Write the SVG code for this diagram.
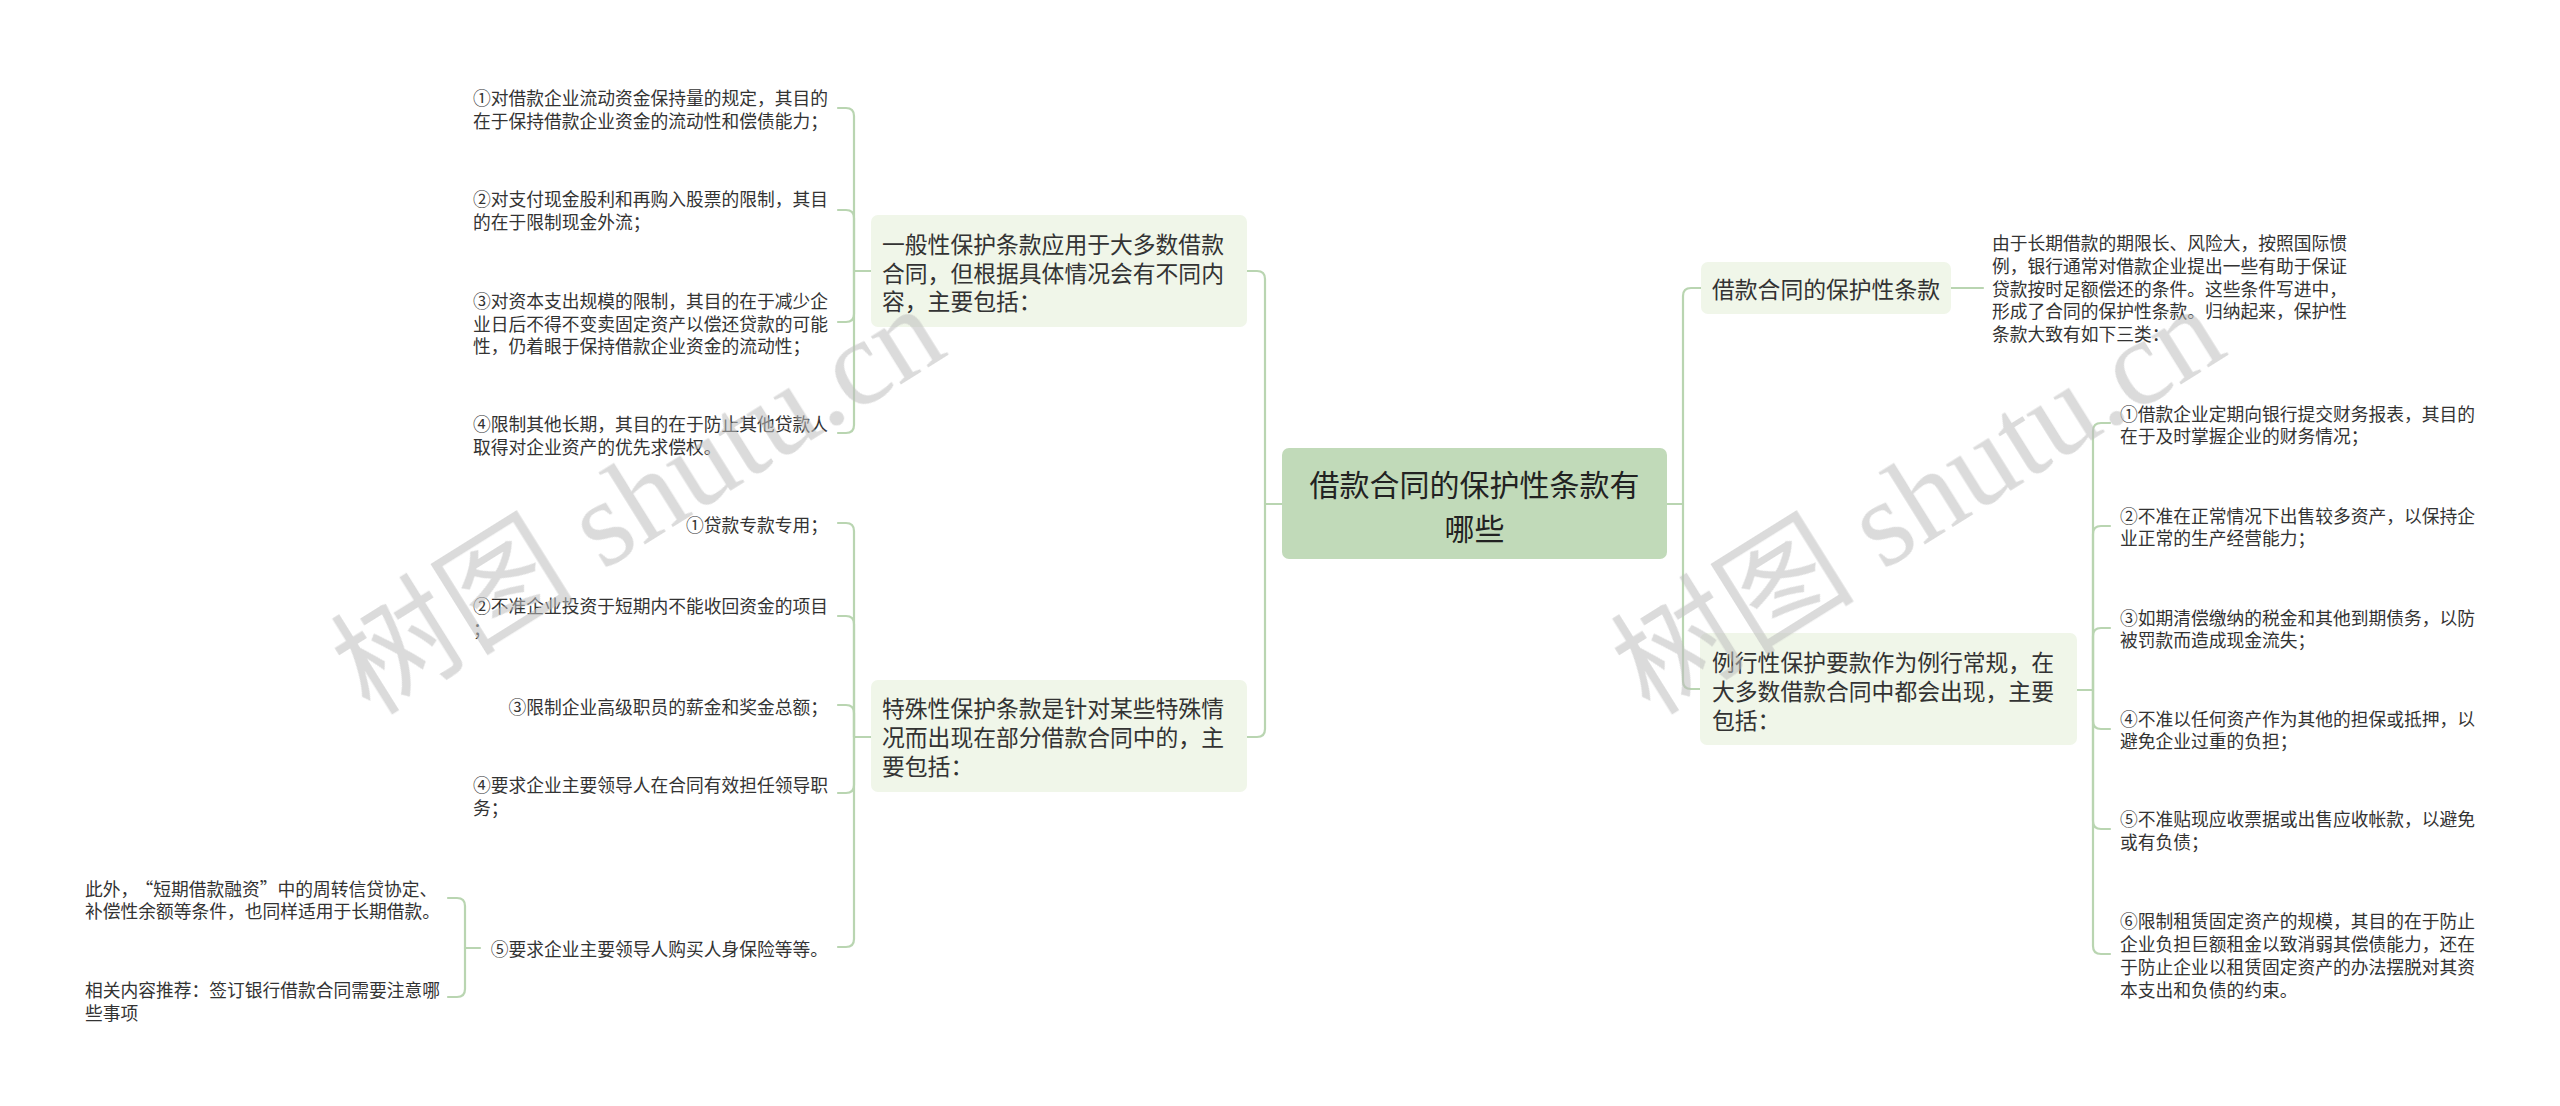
<svg xmlns="http://www.w3.org/2000/svg" width="2560" height="1106" viewBox="0 0 2560 1106">
<style>
text{font-family:"Noto Sans CJK SC","Noto Sans",sans-serif;fill:#333;dominant-baseline:central}
.leaf{font-size:17.75px}
.l1{font-size:22.8px}
.root{font-size:30px;fill:#222}
.box{fill:#f0f6e9}
.rootbox{fill:#c1dab9}
.conn path{fill:none;stroke:#b9d5b1;stroke-width:2.2;stroke-linecap:round}
.wm{font-family:"Liberation Serif","Noto Sans CJK SC",serif;font-size:122px;fill:#bdbdbd;dominant-baseline:alphabetic}
</style>
<rect width="2560" height="1106" fill="#ffffff"/>

<g id="connectors" class="conn">
  <path d="M1282,504 L1265,504"/>
  <path d="M1265,504 L1265,279 Q1265,271 1257,271 L1247,271"/>
  <path d="M1265,504 L1265,729 Q1265,737 1257,737 L1247,737"/>
  <path d="M1667,504 L1683,504"/>
  <path d="M1683,504 L1683,296 Q1683,288 1691,288 L1701,288"/>
  <path d="M1683,504 L1683,681 Q1683,689 1691,689 L1700,689"/>
  <path d="M871,271 L854,271"/>
  <path d="M854,271 L854,116 Q854,108 846,108 L838,108"/>
  <path d="M854,271 L854,218 Q854,210 846,210 L838,210"/>
  <path d="M854,271 L854,314 Q854,322 846,322 L838,322"/>
  <path d="M854,271 L854,425 Q854,433 846,433 L838,433"/>
  <path d="M871,737 L854,737"/>
  <path d="M854,737 L854,531 Q854,523 846,523 L838,523"/>
  <path d="M854,737 L854,624 Q854,616 846,616 L838,616"/>
  <path d="M854,737 L854,713 Q854,705 846,705 L838,705"/>
  <path d="M854,737 L854,785 Q854,793 846,793 L838,793"/>
  <path d="M854,737 L854,939 Q854,947 846,947 L838,947"/>
  <path d="M480,948 L465,948"/>
  <path d="M465,948 L465,906 Q465,898 457,898 L448,898"/>
  <path d="M465,948 L465,989 Q465,997 457,997 L448,997"/>
  <path d="M1951,288 L1983,288"/>
  <path d="M2077,690 L2093,690"/>
  <path d="M2093,690 L2093,431 Q2093,423 2101,423 L2110,423"/>
  <path d="M2093,690 L2093,534 Q2093,526 2101,526 L2110,526"/>
  <path d="M2093,690 L2093,636 Q2093,628 2101,628 L2110,628"/>
  <path d="M2093,690 L2093,721 Q2093,729 2101,729 L2110,729"/>
  <path d="M2093,690 L2093,821 Q2093,829 2101,829 L2110,829"/>
  <path d="M2093,690 L2093,946 Q2093,954 2101,954 L2110,954"/>
</g>

<g id="root">
  <rect class="rootbox" x="1282" y="448" width="385" height="111" rx="7"/>
  <text class="root" x="1474.5" y="483" text-anchor="middle">借款合同的保护性条款有</text>
  <text class="root" x="1474.5" y="527" text-anchor="middle">哪些</text>
</g>

<g id="nodeA">
  <rect class="box" x="871" y="215" width="376" height="112" rx="7"/>
  <text class="l1" x="882" y="243">一般性保护条款应用于大多数借款</text>
  <text class="l1" x="882" y="272">合同，但根据具体情况会有不同内</text>
  <text class="l1" x="882" y="300">容，主要包括：</text>
</g>

<g id="nodeB">
  <rect class="box" x="871" y="680" width="376" height="112" rx="7"/>
  <text class="l1" x="882" y="707">特殊性保护条款是针对某些特殊情</text>
  <text class="l1" x="882" y="736">况而出现在部分借款合同中的，主</text>
  <text class="l1" x="882" y="765">要包括：</text>
</g>

<g id="nodeD">
  <rect class="box" x="1701" y="262" width="250" height="52" rx="7"/>
  <text class="l1" x="1712" y="288">借款合同的保护性条款</text>
</g>

<g id="nodeC">
  <rect class="box" x="1700" y="633" width="377" height="112" rx="7"/>
  <text class="l1" x="1712" y="661">例行性保护要款作为例行常规，在</text>
  <text class="l1" x="1712" y="690">大多数借款合同中都会出现，主要</text>
  <text class="l1" x="1712" y="719">包括：</text>
</g>

<g id="nodeD-desc">
  <text class="leaf" x="1992" y="242">由于长期借款的期限长、风险大，按照国际惯</text>
  <text class="leaf" x="1992" y="265">例，银行通常对借款企业提出一些有助于保证</text>
  <text class="leaf" x="1992" y="288">贷款按时足额偿还的条件。这些条件写进中，</text>
  <text class="leaf" x="1992" y="310">形成了合同的保护性条款。归纳起来，保护性</text>
  <text class="leaf" x="1992" y="333">条款大致有如下三类：</text>
</g>

<g id="A1">
  <text class="leaf" x="473" y="97">①对借款企业流动资金保持量的规定，其目的</text>
  <text class="leaf" x="473" y="120">在于保持借款企业资金的流动性和偿债能力；</text>
</g>
<g id="A2">
  <text class="leaf" x="473" y="198">②对支付现金股利和再购入股票的限制，其目</text>
  <text class="leaf" x="473" y="221">的在于限制现金外流；</text>
</g>
<g id="A3">
  <text class="leaf" x="473" y="300">③对资本支出规模的限制，其目的在于减少企</text>
  <text class="leaf" x="473" y="323">业日后不得不变卖固定资产以偿还贷款的可能</text>
  <text class="leaf" x="473" y="345">性，仍着眼于保持借款企业资金的流动性；</text>
</g>
<g id="A4">
  <text class="leaf" x="473" y="423">④限制其他长期，其目的在于防止其他贷款人</text>
  <text class="leaf" x="473" y="446">取得对企业资产的优先求偿权。</text>
</g>

<g id="B1">
  <text class="leaf" x="828" y="524" text-anchor="end">①贷款专款专用；</text>
</g>
<g id="B2">
  <text class="leaf" x="473" y="605">②不准企业投资于短期内不能收回资金的项目</text>
  <text class="leaf" x="473" y="628">；</text>
</g>
<g id="B3">
  <text class="leaf" x="828" y="706" text-anchor="end">③限制企业高级职员的薪金和奖金总额；</text>
</g>
<g id="B4">
  <text class="leaf" x="473" y="784">④要求企业主要领导人在合同有效担任领导职</text>
  <text class="leaf" x="473" y="807">务；</text>
</g>
<g id="B5">
  <text class="leaf" x="828" y="948" text-anchor="end">⑤要求企业主要领导人购买人身保险等等。</text>
</g>

<g id="B5a">
  <text class="leaf" x="85" y="888">此外，<tspan dx="6">“</tspan>短期借款融资”中的周转信贷协定、</text>
  <text class="leaf" x="85" y="910">补偿性余额等条件，也同样适用于长期借款。</text>
</g>
<g id="B5b">
  <text class="leaf" x="85" y="989">相关内容推荐：签订银行借款合同需要注意哪</text>
  <text class="leaf" x="85" y="1012">些事项</text>
</g>

<g id="C1">
  <text class="leaf" x="2120" y="413">①借款企业定期向银行提交财务报表，其目的</text>
  <text class="leaf" x="2120" y="435">在于及时掌握企业的财务情况；</text>
</g>
<g id="C2">
  <text class="leaf" x="2120" y="515">②不准在正常情况下出售较多资产，以保持企</text>
  <text class="leaf" x="2120" y="537">业正常的生产经营能力；</text>
</g>
<g id="C3">
  <text class="leaf" x="2120" y="617">③如期清偿缴纳的税金和其他到期债务，以防</text>
  <text class="leaf" x="2120" y="639">被罚款而造成现金流失；</text>
</g>
<g id="C4">
  <text class="leaf" x="2120" y="718">④不准以任何资产作为其他的担保或抵押，以</text>
  <text class="leaf" x="2120" y="740">避免企业过重的负担；</text>
</g>
<g id="C5">
  <text class="leaf" x="2120" y="818">⑤不准贴现应收票据或出售应收帐款，以避免</text>
  <text class="leaf" x="2120" y="841">或有负债；</text>
</g>
<g id="C6">
  <text class="leaf" x="2120" y="920">⑥限制租赁固定资产的规模，其目的在于防止</text>
  <text class="leaf" x="2120" y="943">企业负担巨额租金以致消弱其偿债能力，还在</text>
  <text class="leaf" x="2120" y="966">于防止企业以租赁固定资产的办法摆脱对其资</text>
  <text class="leaf" x="2120" y="989">本支出和负债的约束。</text>
</g>

<g id="watermarks" opacity="0.55">
  <text class="wm" text-anchor="middle" transform="translate(660,535) rotate(-32)">树图 shutu.cn</text>
  <text class="wm" text-anchor="middle" transform="translate(1940,535) rotate(-32)">树图 shutu.cn</text>
</g>
</svg>
